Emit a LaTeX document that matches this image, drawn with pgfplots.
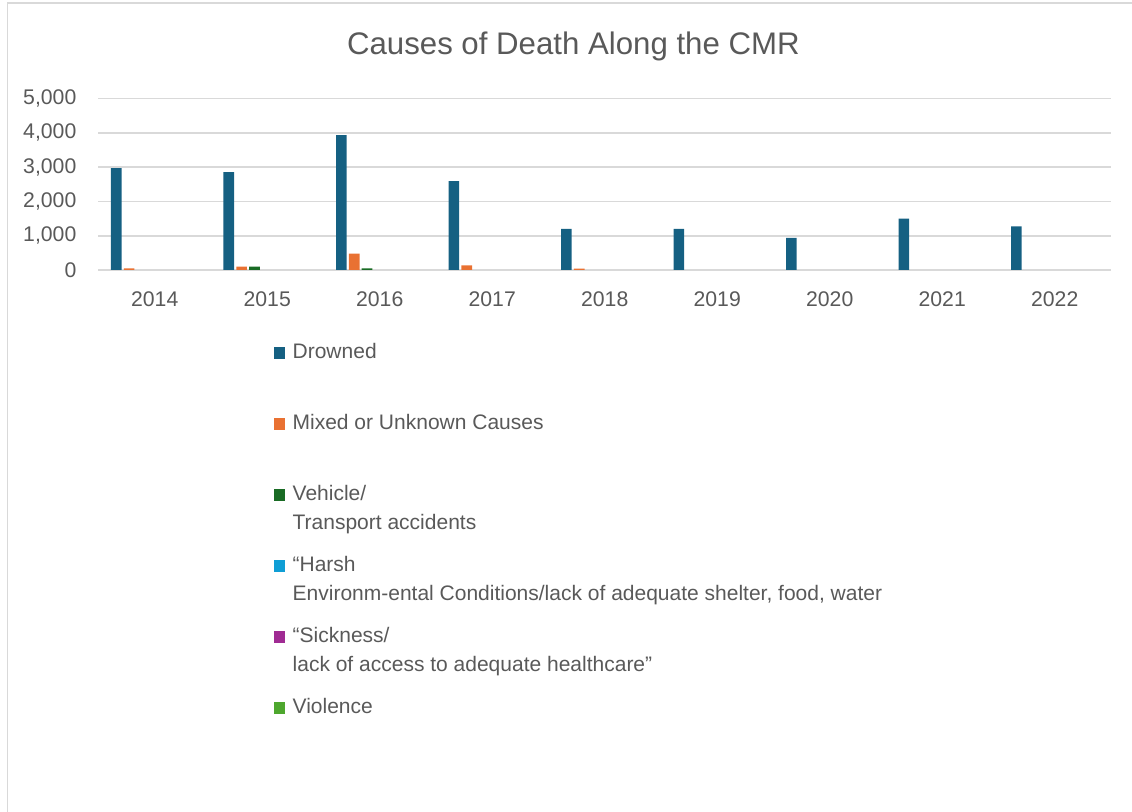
\documentclass[border=0pt]{standalone}
\usepackage{fontspec}
\setmainfont{Liberation Sans}
\usepackage{pgfplots}
\pgfplotsset{compat=1.18}

\definecolor{cDrowned}{HTML}{156082}
\definecolor{cMixed}{HTML}{E97132}
\definecolor{cVehicle}{HTML}{196B24}
\definecolor{cHarsh}{HTML}{0F9ED5}
\definecolor{cSick}{HTML}{A02B93}
\definecolor{cViolence}{HTML}{4EA72E}
\definecolor{txt}{HTML}{595959}
\definecolor{gridc}{HTML}{D9D9D9}

\newcommand{\twoline}[2]{\begin{tabular}[t]{@{}l@{}}#1\\#2\end{tabular}}

% bars with a count of zero are left out; series that are zero throughout
% keep only their legend swatch
\pgfplotsset{
  skip zeros/.style={y filter/.expression={y==0 ? nan : y}},
  swatch/.style={fill=none, draw=none,
    legend image code/.code={\fill[#1] (0pt,-0.35pt) rectangle (5.5pt,5.65pt);}},
}

\begin{document}
\begin{tikzpicture}
\path[use as bounding box] (0,0) rectangle (566pt,406pt);
% chart area border
\draw[gridc, line width=0.8pt] (3.75pt,-10pt) |- (600pt,404.5pt);
% chart title
\node[anchor=base, text=txt, font=\fontsize{15.6}{18}\selectfont, inner sep=0pt]
  at (286.7pt,378.5pt) {Causes of Death Along the CMR};

\begin{axis}[
  at={(49.25pt,271pt)}, anchor=south west,
  scale only axis, width=506.25pt, height=85.65pt,
  xmin=-0.5, xmax=8.5, ymin=0, ymax=5000,
  ybar, bar width=5.35pt,
  xtick={0,...,8},
  xticklabels={2014,2015,2016,2017,2018,2019,2020,2021,2022},
  ytick={0,1000,2000,3000,4000,5000},
  scaled y ticks=false,
  /pgf/number format/1000 sep={,},
  /pgf/number format/assume math mode=true,
  ymajorgrids, grid style={gridc, line width=0.8pt},
  axis line style={draw=none},
  major tick length=0pt,
  tick style={draw=none},
  tick label style={text=txt, font=\fontsize{10.6}{12.6}\selectfont},
  yticklabel style={anchor=east, inner sep=0pt, xshift=-10.9pt},
  xticklabel style={anchor=base, inner sep=0pt, yshift=-18.35pt},
  unbounded coords=discard,
  legend image code/.code={\fill[#1] (0pt,-0.35pt) rectangle (5.5pt,5.65pt);},
  legend style={draw=none, fill=none, inner sep=0pt,
    at={(axis description cs:0.1726,-0.422)}, anchor=north west,
    row sep=9pt,
    cells={anchor=base west},
    nodes={anchor=base west, inner xsep=4pt, inner ysep=0pt,
      text height=8pt, text depth=18.5pt, text=txt,
      font=\fontsize{10.5}{14.25}\selectfont}},
]
\addplot[fill=cDrowned, draw=none, bar shift=-19.2pt, skip zeros] coordinates
  {(0,2970) (1,2854) (2,3936) (3,2593) (4,1200) (5,1200) (6,939) (7,1499) (8,1275)};
\addlegendentry{Drowned}
\addplot[fill=cMixed, draw=none, bar shift=-12.8pt, skip zeros] coordinates
  {(0,50) (1,98) (2,475) (3,136) (4,40) (5,0) (6,0) (7,0) (8,0)};
\addlegendentry{Mixed or Unknown Causes}
\addplot[fill=cVehicle, draw=none, bar shift=-6.4pt, skip zeros] coordinates
  {(0,0) (1,100) (2,50) (3,0) (4,0) (5,0) (6,0) (7,0) (8,0)};
\addlegendentry{\twoline{Vehicle/}{Transport accidents}}
\addplot[swatch=cHarsh, bar shift=0pt] coordinates
  {(0,0) (1,0) (2,0) (3,0) (4,0) (5,0) (6,0) (7,0) (8,0)};
\addlegendentry{\twoline{“Harsh}{Environm-ental Conditions/lack of adequate shelter, food, water}}
\addplot[swatch=cSick, bar shift=6.4pt] coordinates
  {(0,0) (1,0) (2,0) (3,0) (4,0) (5,0) (6,0) (7,0) (8,0)};
\addlegendentry{\twoline{“Sickness/}{lack of access to adequate healthcare”}}
\addplot[swatch=cViolence, bar shift=12.8pt] coordinates
  {(0,0) (1,0) (2,0) (3,0) (4,0) (5,0) (6,0) (7,0) (8,0)};
\addlegendentry{Violence}
\end{axis}
\end{tikzpicture}
\end{document}
